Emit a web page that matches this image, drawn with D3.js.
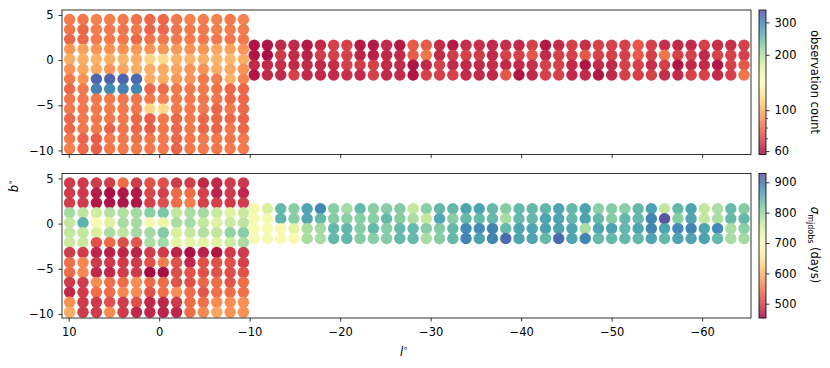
<html>
<head>
<title>survey grid</title>
<script src="https://d3js.org/d3.v7.min.js"></script>
<style>
  body { margin: 0; background: #fff; }
  text { font-family: "DejaVu Sans", sans-serif; fill: #000; }
</style>
</head>
<body>
<script>
// field centres (deg)
var lLeft = [9.90, 8.42, 6.94, 5.47, 3.99, 2.51, 1.03, -0.45, -1.92, -3.40, -4.88, -6.36, -7.84, -9.31];
var bLeft = [4.5, 3.4, 2.3, 1.2, 0.1, -1.0, -2.1, -3.2, -4.3, -5.4, -6.5, -7.6, -8.7, -9.8];
var lRight = [-10.50, -11.96, -13.43, -14.89, -16.35, -17.82, -19.28, -20.74, -22.20, -23.67,
              -25.13, -26.59, -28.06, -29.52, -30.98, -32.45, -33.91, -35.37, -36.83, -38.30,
              -39.76, -41.22, -42.69, -44.15, -45.61, -47.08, -48.54, -50.00, -51.46, -52.93,
              -54.39, -55.85, -57.32, -58.78, -60.24, -61.71, -63.17, -64.63];
var bRight = [1.65, 0.55, -0.55, -1.65];

var xTicks = [10, 0, -10, -20, -30, -40, -50, -60];
var yTicks = [5, 0, -5, -10];
var countTicks = [60, 100, 200, 300];
var countMinor = [70, 80, 90];
var sigmaTicks = [500, 600, 700, 800, 900];

// observation count, rows top to bottom
var countLeft = [
  [86,84,87,86,85,83,80,80,85,87,86,87,85,87],
  [84,80,86,85,84,85,80,80,84,85,85,87,86,86],
  [80,80,85,86,85,80,84,85,85,86,85,85,85,85],
  [93,96,92,92,91,93,92,93,93,92,93,97,96,92],
  [99,100,101,100,102,99,115,118,101,102,100,101,103,99],
  [92,97,98,93,97,99,100,98,97,93,92,99,98,92],
  [85,92,325,330,326,320,99,99,93,92,85,86,101,88],
  [80,85,298,290,296,292,80,81,85,85,85,83,80,80],
  [84,85,85,85,85,84,85,86,85,85,84,84,80,80],
  [85,85,85,86,85,85,116,118,85,85,85,80,85,80],
  [80,85,85,85,85,80,78,85,80,85,80,80,80,79],
  [80,85,85,79,84,80,78,85,80,85,80,79,85,80],
  [85,79,77,85,85,83,85,85,80,85,85,85,84,85],
  [87,80,78,85,85,85,85,85,79,85,85,85,85,85]
];
var countRight = [
  [61,61,65,65,62,65,70,70,62,62,65,62,77,77,65,62,66,66,65,66,65,70,62,65,70,66,70,70,70,76,70,66,65,65,70,66,66,70],
  [61,60,69,65,63,69,70,70,64,63,65,65,77,84,65,69,70,69,65,70,70,76,65,70,70,76,70,70,70,77,70,84,70,70,65,70,70,70],
  [65,65,66,65,65,65,66,70,69,70,65,65,61,65,70,65,65,65,66,65,65,66,70,70,65,61,65,65,70,70,66,70,61,65,65,61,70,76],
  [61,65,65,70,65,65,65,66,65,70,65,65,61,70,70,70,65,65,65,76,61,65,70,70,65,65,61,65,70,70,70,66,65,70,70,65,70,84]
];

// sigma of mjd_obs (days)
var sigmaLeft = [
  [500,500,500,502,545,500,520,520,500,502,485,485,500,498],
  [500,498,475,462,470,472,510,505,545,545,505,480,500,482],
  [502,500,472,468,468,470,505,518,545,560,505,505,500,500],
  [790,770,755,778,780,792,810,820,765,785,790,760,738,760],
  [765,845,695,740,785,790,700,725,785,790,765,740,760,770],
  [765,768,745,785,770,790,790,815,745,765,780,765,805,810],
  [760,762,520,540,518,525,785,790,735,730,735,738,760,785],
  [500,500,482,478,482,480,500,500,480,465,478,468,498,500],
  [548,565,500,498,500,500,520,560,520,482,520,520,520,505],
  [545,568,485,482,502,500,460,462,518,520,520,520,518,520],
  [500,502,570,548,545,572,545,545,520,520,540,545,522,545],
  [485,500,548,545,568,570,520,548,572,545,525,548,545,548],
  [575,500,498,520,500,520,482,482,500,545,548,570,572,575],
  [595,500,500,570,500,485,482,480,482,545,568,592,575,575]
];
var sigmaRight = [
  [710,745,838,810,858,880,810,790,838,810,812,815,765,810,838,838,858,860,838,812,838,838,840,858,838,858,810,812,810,838,860,765,838,858,765,785,838,812],
  [700,705,840,812,855,838,812,810,810,810,838,812,785,765,855,812,838,838,838,788,838,838,858,858,838,860,838,812,838,838,885,925,812,858,765,785,838,838],
  [695,698,700,735,785,790,838,840,812,838,812,838,838,812,815,838,880,878,885,838,858,858,860,858,858,785,858,860,838,858,882,858,880,885,858,880,785,810],
  [700,700,700,695,785,788,838,840,812,810,812,838,838,785,812,838,882,860,885,905,858,858,838,905,858,882,838,838,838,838,858,838,858,858,858,838,785,790]
];

function gridPoints(ls, bs, vals) {
  var pts = [];
  bs.forEach(function (b, i) {
    ls.forEach(function (l, j) { pts.push({ l: l, b: b, v: vals[i][j] }); });
  });
  return pts;
}

var width = 830, height = 368;
var left = 62, right = 751;
var svg = d3.select("body").append("svg").attr("width", width).attr("height", height);

var x = d3.scaleLinear().domain([10.74, -65.4]).range([left, right]);

function drawPanel(top, h, pts, color, labelX) {
  var y = d3.scaleLinear().domain([-10.45, 5.55]).range([top + h, top]);
  var g = svg.append("g");
  g.selectAll("circle").data(pts).enter().append("circle")
    .attr("cx", function (d) { return x(d.l); })
    .attr("cy", function (d) { return y(d.b); })
    .attr("r", 5.7)
    .attr("fill", function (d) { return color(d.v); });

  var ax = g.append("g").attr("transform", "translate(0," + (top + h) + ")")
    .call(d3.axisBottom(x).tickValues(xTicks).tickSize(3.5).tickPadding(6)
      .tickFormat(labelX ? d3.format("d") : function () { return ""; }));
  var ay = g.append("g").attr("transform", "translate(" + left + ",0)")
    .call(d3.axisLeft(y).tickValues(yTicks).tickSize(3.5).tickPadding(5).tickFormat(d3.format("d")));
  [ax, ay].forEach(function (a) {
    a.select(".domain").remove();
    a.selectAll("line").attr("stroke", "#000").attr("stroke-width", 0.8);
    a.selectAll("text").style("font-size", "11.5px").attr("font-family", "DejaVu Sans");
  });
  g.append("rect").attr("x", left).attr("y", top).attr("width", right - left).attr("height", h)
    .attr("fill", "none").attr("stroke", "#000").attr("stroke-width", 0.8);
}

function drawColorbar(top, h, pos, color, ticks, minor) {
  var bx = 759, bw = 7;
  var g = svg.append("g");
  for (var i = 0; i < h; i += 0.5) {
    g.append("rect").attr("x", bx).attr("y", top + i).attr("width", bw).attr("height", 0.6)
      .attr("fill", color(pos.invert(top + i + 0.25)));
  }
  g.append("rect").attr("x", bx).attr("y", top).attr("width", bw).attr("height", h)
    .attr("fill", "none").attr("stroke", "#000").attr("stroke-width", 0.8);
  var ax = g.append("g").attr("transform", "translate(" + (bx + bw) + ",0)")
    .call(d3.axisRight(pos).tickValues(ticks).tickSize(3.5).tickPadding(5).tickFormat(d3.format("d")));
  ax.select(".domain").remove();
  ax.selectAll("line").attr("stroke", "#000").attr("stroke-width", 0.8);
  ax.selectAll("text").style("font-size", "11.5px").attr("font-family", "DejaVu Sans");
  g.selectAll(".minor").data(minor).enter().append("line").attr("class", "minor")
    .attr("x1", bx + bw).attr("x2", bx + bw + 2)
    .attr("y1", function (d) { return pos(d); }).attr("y2", function (d) { return pos(d); })
    .attr("stroke", "#000").attr("stroke-width", 0.6);
}

// top panel: observation count
var topT = 10, topH = 144.5;
var countColor = d3.scaleSequentialLog(d3.interpolateSpectral).domain([57.5, 350]);
drawPanel(topT, topH, gridPoints(lLeft, bLeft, countLeft).concat(gridPoints(lRight, bRight, countRight)), countColor, false);
var countPos = d3.scaleLog().domain([57.5, 350]).range([topT + topH, topT]);
drawColorbar(topT, topH, countPos, countColor, countTicks, countMinor);

// bottom panel: sigma mjdobs
var botT = 173.5, botH = 144.5;
var sigmaColor = d3.scaleSequential(d3.interpolateSpectral).domain([453, 929]);
drawPanel(botT, botH, gridPoints(lLeft, bLeft, sigmaLeft).concat(gridPoints(lRight, bRight, sigmaRight)), sigmaColor, true);
var sigmaPos = d3.scaleLinear().domain([453, 929]).range([botT + botH, botT]);
drawColorbar(botT, botH, sigmaPos, sigmaColor, sigmaTicks, []);

// axis labels
var xl = svg.append("text").attr("x", 404).attr("y", 356).attr("text-anchor", "middle").style("font-size", "11.5px");
xl.append("tspan").attr("font-style", "italic").text("l");
xl.append("tspan").attr("dy", -5).style("font-size", "8px").text("∘");

var yl = svg.append("text").attr("transform", "translate(18,186) rotate(-90)").attr("text-anchor", "middle").style("font-size", "11.5px");
yl.append("tspan").attr("font-style", "italic").text("b");
yl.append("tspan").attr("dy", -5).style("font-size", "8px").text("∘");

svg.append("text").attr("transform", "translate(810.5,82) rotate(90)").attr("text-anchor", "middle")
  .style("font-size", "11.5px").text("observation count");

var sl = svg.append("text").attr("transform", "translate(810.5,245) rotate(90)").attr("text-anchor", "middle").style("font-size", "11.5px");
sl.append("tspan").attr("font-style", "italic").text("σ");
sl.append("tspan").attr("dy", 2.5).style("font-size", "8px").text("mjdobs");
sl.append("tspan").attr("dy", -2.5).text(" (days)");
</script>
</body>
</html>
